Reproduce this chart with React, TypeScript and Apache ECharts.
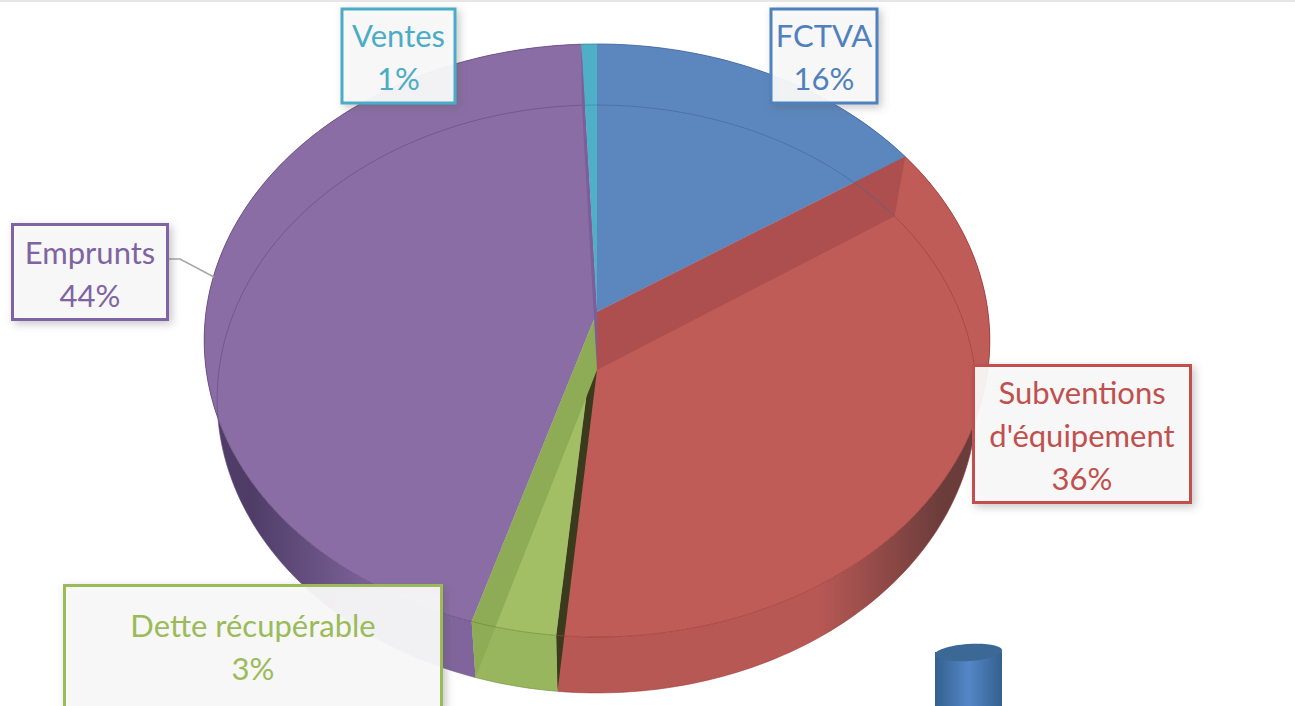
import React, { useEffect, useRef } from "react";
import * as echarts from "echarts";

// ---- data ----
const categories = ["FCTVA", "Subventions d'équipement", "Dette récupérable", "Emprunts", "Ventes"];
const shares = [15.6, 35.9, 3.2, 44.6, 0.7];
const labelLines = [["FCTVA", "16%"], ["Subventions", "d'équipement", "36%"], ["Dette récupérable", "3%"], ["Emprunts", "44%"], ["Ventes", "1%"]];

// ---- styling ----
const faceColors = ["#5B87BE", "#C05C58", "#A2BF65", "#8A6DA5", "#4FAFC6"];
const textColors = ["#4F81BD", "#C0504D", "#9BBB59", "#8064A2", "#4BACC6"];
const wallEdge = ["#3a5a80", "#6a3c3a", "#5f7536", "#4f3d68", "#2f7a8d"];
const wallMid = ["#5480b4", "#b85855", "#98b65e", "#7f659c", "#4aa5bb"];
const lineColors = ["#3f6698", "#9c3a38", "#6f8f36", "#65487f", "#2f8aa0"];
// colour of the radial wall that starts each slice, seen through the translucent top
const radialColors = [null, "#AD4F4E", "#3A3B1C", "#8EAC55", "#7A5F9B"];

// perspective ellipses: rim position for an angle measured clockwise from the back
const topRim = { cx: 597, cy: 312, rx: 391, a: -263.8, c: 0.0961 };
const baseRim = { cx: 597, cy: 370, rx: 378, a: -254.6, c: 0.0986 };
type Rim = typeof topRim;
const rimPoint = (r: Rim, t: number): number[] => {
  const d = 1 + r.c * Math.cos(t);
  return [r.cx + (r.rx * Math.sin(t)) / d, (r.a * Math.cos(t) + r.cy) / d];
};
const total = shares.reduce((s, v) => s + v, 0);
const angleAt = (i: number) => (shares.slice(0, i).reduce((s, v) => s + v, 0) / total) * Math.PI * 2;
const arc = (r: Rim, i: number): number[][] => {
  const a0 = angleAt(i), a1 = angleAt(i + 1);
  const n = Math.max(3, Math.ceil((a1 - a0) / 0.02));
  const pts: number[][] = [];
  for (let k = 0; k <= n; k++) pts.push(rimPoint(r, a0 + ((a1 - a0) * k) / n));
  return pts;
};

const wallFill = (i: number) =>
  new echarts.graphic.LinearGradient(205, 0, 991, 0, [
    { offset: 0, color: wallEdge[i] },
    { offset: 0.06, color: wallEdge[i] },
    { offset: 0.22, color: wallMid[i] },
    { offset: 0.78, color: wallMid[i] },
    { offset: 0.94, color: wallEdge[i] },
    { offset: 1, color: wallEdge[i] },
  ], true);

const wallItem = (p: any) => ({
  type: "polygon",
  shape: { points: [...arc(topRim, p.dataIndex), ...arc(baseRim, p.dataIndex).reverse()] },
  style: { fill: wallFill(p.dataIndex) },
});
const faceItem = (p: any) => ({
  type: "polygon",
  shape: { points: [[topRim.cx, topRim.cy], ...arc(topRim, p.dataIndex)] },
  style: { fill: faceColors[p.dataIndex] },
});
const radialItem = (p: any) => {
  const i = p.dataIndex;
  if (!radialColors[i]) return { type: "group", children: [] };
  const t = angleAt(i);
  return {
    type: "polygon",
    shape: { points: [[topRim.cx, topRim.cy], rimPoint(topRim, t), rimPoint(baseRim, t), [baseRim.cx, baseRim.cy]] },
    style: { fill: radialColors[i] as string },
  };
};
const lineItem = (p: any) => {
  const i = p.dataIndex;
  const stroke = lineColors[i];
  return {
    type: "group",
    children: [
      { type: "polyline", shape: { points: arc(topRim, i) }, style: { fill: "none", stroke, lineWidth: 1, opacity: 0.75 } },
      { type: "polyline", shape: { points: arc(baseRim, i) }, style: { fill: "none", stroke, lineWidth: 1, opacity: 0.6 } },
    ],
  };
};

const layer = (renderItem: any, z: number) => ({
  type: "custom",
  coordinateSystem: "none",
  silent: true,
  clip: false,
  z,
  data: shares,
  renderItem,
});

// label boxes, in slice order: left, top, width, height, first text baseline centre
const boxes = [
  { x: 771, y: 9, w: 106, h: 94, ty: 35 },
  { x: 973.5, y: 365.5, w: 217, h: 137, ty: 392 },
  { x: 64.5, y: 585.5, w: 377, h: 124, ty: 625 },
  { x: 12.5, y: 224.5, w: 155, h: 95, ty: 252 },
  { x: 342, y: 9, w: 113, h: 94, ty: 35 },
];
const lineStep = 43;

const labelGraphics = boxes.flatMap((b, i) => [
  {
    type: "rect", z: 20,
    shape: { x: b.x, y: b.y, width: b.w, height: b.h },
    style: {
      fill: "rgba(250,250,250,0.93)", stroke: textColors[i], lineWidth: 3,
      shadowBlur: 8, shadowOffsetX: 3, shadowOffsetY: 3, shadowColor: "rgba(90,90,90,0.35)",
    },
  },
  ...labelLines[i].map((t, k) => ({
    type: "text", z: 21,
    x: b.x + b.w / 2, y: b.ty + k * lineStep,
    style: { text: t, fill: textColors[i], font: '400 31px Lato, "Open Sans", sans-serif', textAlign: "center", textVerticalAlign: "middle" },
  })),
]);

const cylinderFill = new echarts.graphic.LinearGradient(935, 0, 1002, 0, [
  { offset: 0, color: "#34608F" },
  { offset: 0.5, color: "#5587C8" },
  { offset: 1, color: "#34608F" },
], true);

const decorations = [
  { type: "rect", z: 1, shape: { x: 0, y: 0, width: 1295, height: 2 }, style: { fill: "#E6E6E6" } },
  { type: "polyline", z: 19, shape: { points: [[168, 259], [180, 259], [214, 277]] }, style: { fill: "none", stroke: "#A6A6A6", lineWidth: 1.5 } },
  { type: "rect", z: 3, shape: { x: 935, y: 652, width: 67, height: 60 }, style: { fill: cylinderFill } },
  { type: "ellipse", z: 4, x: 968.5, y: 652.5, rotation: 0.07, shape: { cx: 0, cy: 0, rx: 33.7, ry: 8.5 }, style: { fill: "#3C6896" } },
];

export default function App() {
  const ref = useRef<HTMLDivElement>(null);
  useEffect(() => {
    document.body.style.margin = "0";
    document.body.style.overflow = "hidden";
    const chart = echarts.init(ref.current!, null, { renderer: "svg" });
    chart.setOption({
      animation: false,
      backgroundColor: "#FFFFFF",
      series: [layer(wallItem, 5), layer(faceItem, 6), layer(radialItem, 7), layer(lineItem, 8)],
      graphic: { elements: [...decorations, ...labelGraphics] },
    });
    return () => chart.dispose();
  }, []);
  return <div ref={ref} aria-label={categories.join(", ")} style={{ width: 1295, height: 706 }} />;
}
